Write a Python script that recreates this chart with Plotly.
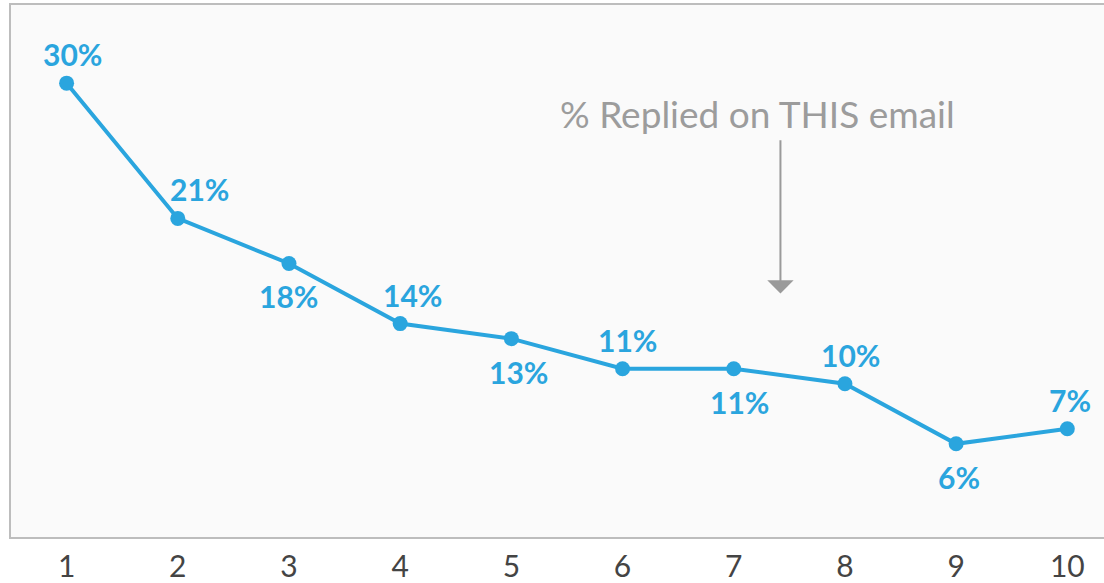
import plotly.graph_objects as go

emails = [1, 2, 3, 4, 5, 6, 7, 8, 9, 10]
reply_pct = [30, 21, 18, 14, 13, 11, 11, 10, 6, 7]
labels = [f"{v}%" for v in reply_pct]
label_side = ["above", "above", "below", "above", "below", "above", "below", "above", "below", "above"]
label_xshift = [6, 22, 0, 12, 7, 5, 6, 6, 3, 3]

BLUE = "#2aa5de"

fig = go.Figure()
fig.add_trace(go.Scatter(
    x=emails, y=reply_pct, mode="lines+markers",
    line=dict(color=BLUE, width=4),
    marker=dict(color=BLUE, size=15),
    hoverinfo="skip", showlegend=False,
))

for xv, yv, lab, side, xs in zip(emails, reply_pct, labels, label_side, label_xshift):
    fig.add_annotation(
        x=xv, y=yv, text=f"<b>{lab}</b>", showarrow=False,
        xshift=xs, yshift=(29 if side == "above" else -33),
        font=dict(family="Lato", size=30, color=BLUE),
    )

fig.add_annotation(
    x=7.42, y=16.0, ax=7.42, ay=26.3, axref="x", ayref="y", xref="x", yref="y",
    showarrow=True, arrowhead=1, arrowsize=2.2, arrowwidth=2, arrowcolor="#9a9a9a",
    text="",
)
fig.add_annotation(
    x=7.21, y=28.0, text="% Replied on THIS email", showarrow=False,
    font=dict(family="Lato", size=37, color="#9c9c9c"),
)

fig.update_xaxes(
    range=[0.5, 10.33], tickvals=emails, ticktext=[str(e) for e in emails],
    showgrid=False, zeroline=False, showline=True, linecolor="#bdbdbd", linewidth=2,
    mirror=True, ticks="outside", ticklen=2, tickcolor="rgba(0,0,0,0)",
    tickfont=dict(family="Lato", size=30, color="#444444"), automargin=False,
)
fig.update_yaxes(
    range=[-0.2, 35.2], showticklabels=False, showgrid=False, zeroline=False,
    showline=True, linecolor="#bdbdbd", linewidth=2, automargin=False,
)
fig.update_layout(
    width=1104, height=583,
    margin=dict(l=11, r=0, t=5, b=46, autoexpand=False),
    plot_bgcolor="#fafafa", paper_bgcolor="#ffffff",
)
fig.write_html("out.html")
